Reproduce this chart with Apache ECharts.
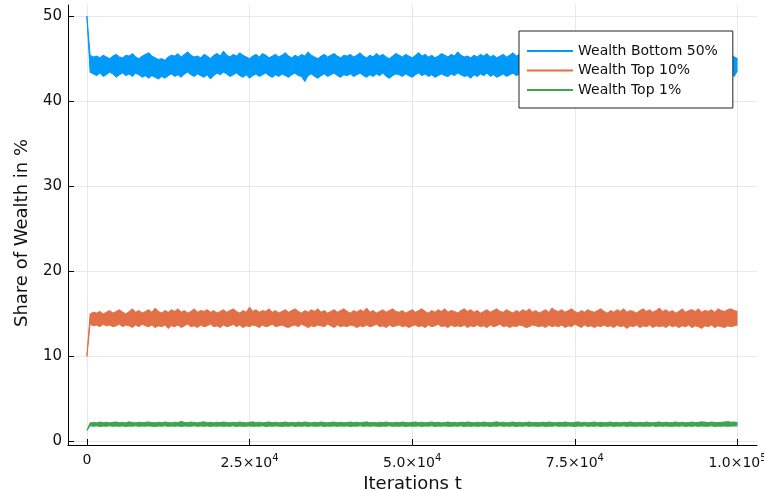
<!DOCTYPE html>
<html>
<head>
<meta charset="utf-8">
<script src="https://cdn.jsdelivr.net/npm/echarts@6/dist/echarts.min.js"></script>
<style>
    html, body {margin: 0; padding: 0; background: #fff;}
    #wealth {width: 764px; height: 490px;}
</style>
</head>
<body>
<div id="wealth"></div>
<script>
// 每个点间隔 500 次迭代, 曲线噪声很密, 用上下包络来画
var step = 500;

// Wealth Bottom 50% 上/下包络
var bottom50Hi = [50,
    45.4, 45.2, 45.3, 45.1, 45.4, 45.2, 45.0, 45.3, 45.5, 45.2, 45.1, 45.4, 45.3, 45.6, 45.2, 45.0, 45.3, 45.5, 45.7,
    45.3, 45.1, 44.9, 45.0, 44.8, 45.2, 45.4, 45.3, 45.6, 45.2, 45.5, 45.8, 45.4, 45.2, 45.3, 45.1, 45.5, 45.3, 45.0, 45.4,
    45.6, 45.3, 45.9, 45.4, 45.2, 45.5, 45.3, 45.7, 45.4, 45.2, 45.0, 45.3, 45.5, 45.2, 45.6, 45.4, 45.1, 45.3, 45.5, 45.2,
    45.4, 45.7, 45.3, 45.1, 45.4, 45.2, 45.5, 45.3, 45.8, 45.4, 45.2, 45.0, 45.3, 45.5, 45.2, 45.4, 45.6, 45.3, 45.1, 45.4,
    45.3, 45.5, 45.2, 45.4, 45.7, 45.3, 45.1, 45.4, 45.2, 45.6, 45.3, 45.5, 45.2, 45.0, 45.3, 45.6, 45.4, 45.2, 45.5, 45.3,
    45.1, 45.4, 45.7, 45.3, 45.5, 45.2, 45.4, 45.1, 45.3, 45.6, 45.4, 45.2, 45.5, 45.3, 45.8, 45.4, 45.2, 45.3, 45.1, 45.4,
    45.2, 45.5, 45.3, 45.6, 45.2, 45.4, 45.1, 45.3, 45.5, 45.2, 45.4, 45.7, 45.3, 45.5, 45.2, 45.4, 45.1, 45.3, 45.6, 45.4,
    45.2, 45.5, 45.3, 45.1, 45.4, 45.6, 45.3, 45.2, 45.5, 45.3, 45.7, 45.4, 45.2, 45.3, 45.5, 45.2, 45.4, 45.1, 45.3, 45.6,
    45.4, 45.2, 45.5, 45.3, 45.6, 45.2, 45.4, 45.3, 45.1, 45.4, 45.6, 45.3, 45.5, 45.2, 45.4, 45.7, 45.3, 45.5, 45.2, 45.4,
    45.3, 45.5, 45.2, 45.4, 45.6, 45.3, 45.1, 45.4, 45.5, 45.2, 45.6, 45.4, 45.2, 45.5, 45.3, 45.4, 45.6, 45.3, 45.5, 45.2,
    45.0];
var bottom50Lo = [50,
    43.4, 43.2, 43.0, 43.3, 42.9, 43.1, 43.4, 43.2, 42.8, 43.1, 43.3, 43.0, 43.2, 42.9, 43.3, 43.1, 42.8, 43.0, 42.7,
    43.0, 42.8, 42.6, 42.9, 42.7, 43.0, 43.2, 42.9, 43.1, 42.8, 43.2, 43.4, 43.1, 42.9, 43.2, 43.0, 42.8, 43.1, 42.6, 43.0,
    43.3, 43.1, 43.4, 43.2, 42.9, 43.1, 43.3, 43.0, 42.8, 43.1, 42.7, 43.0, 43.2, 42.9, 43.1, 43.3, 43.0, 42.8, 43.1, 42.9,
    43.2, 43.0, 42.8, 43.1, 43.3, 43.0, 42.9, 42.3, 43.0, 43.2, 42.9, 42.7, 43.0, 43.2, 42.9, 43.1, 43.3, 43.0, 42.8, 43.1,
    43.0, 43.2, 42.9, 43.1, 43.3, 43.0, 42.8, 43.1, 42.9, 43.2, 43.0, 43.3, 42.9, 42.7, 43.0, 43.2, 43.1, 42.9, 43.2, 43.0,
    42.8, 43.1, 43.3, 43.0, 43.2, 42.9, 43.1, 42.8, 43.0, 43.2, 43.0, 42.9, 43.2, 43.0, 43.3, 43.1, 42.9, 43.0, 42.7, 43.1,
    42.9, 43.2, 43.0, 43.3, 42.9, 43.1, 42.8, 43.0, 43.2, 42.9, 43.1, 43.3, 43.0, 43.2, 42.9, 43.1, 42.8, 43.0, 43.2, 43.1,
    42.9, 43.2, 43.0, 42.8, 43.1, 43.3, 43.0, 42.9, 43.2, 43.0, 43.3, 43.1, 42.9, 43.0, 43.2, 42.9, 43.1, 42.8, 43.0, 43.2,
    43.1, 42.9, 43.2, 43.0, 43.3, 42.9, 43.1, 43.0, 42.8, 43.1, 43.3, 43.0, 43.2, 42.9, 43.1, 43.3, 43.0, 43.2, 42.9, 43.1,
    43.0, 43.2, 42.9, 43.1, 43.3, 43.0, 42.8, 43.1, 43.2, 42.9, 43.3, 43.1, 42.9, 43.2, 43.0, 43.1, 43.3, 43.0, 43.2, 42.9,
    43.6];

// Wealth Top 10% 上/下包络
var top10Hi = [10,
    15.0, 15.2, 15.1, 15.3, 15.0, 15.2, 15.4, 15.1, 15.3, 15.5, 15.2, 15.0, 15.3, 15.6, 15.2, 15.4, 15.1, 15.3, 15.5,
    15.2, 15.7, 15.3, 15.1, 15.4, 15.2, 15.5, 15.3, 15.6, 15.2, 15.4, 15.1, 15.3, 15.6, 15.2, 15.4, 15.3, 15.5, 15.2, 15.4,
    15.1, 15.3, 15.5, 15.2, 15.4, 15.6, 15.3, 15.1, 15.4, 15.2, 15.8, 15.3, 15.5, 15.2, 15.4, 15.3, 15.6, 15.2, 15.4, 15.1,
    15.3, 15.5, 15.2, 15.4, 15.6, 15.3, 15.1, 15.4, 15.2, 15.5, 15.3, 15.6, 15.2, 15.4, 15.1, 15.3, 15.5, 15.2, 15.4, 15.6,
    15.3, 15.1, 15.4, 15.2, 15.5, 15.3, 15.7, 15.2, 15.4, 15.1, 15.3, 15.5, 15.2, 15.4, 15.6, 15.3, 15.2, 15.4, 15.1, 15.3,
    15.5, 15.2, 15.4, 15.6, 15.3, 15.1, 15.4, 15.2, 15.5, 15.3, 15.6, 15.2, 15.4, 15.3, 15.1, 15.4, 15.6, 15.3, 15.5, 15.2,
    15.4, 15.1, 15.3, 15.5, 15.2, 15.4, 15.6, 15.3, 15.2, 15.5, 15.3, 15.1, 15.4, 15.2, 15.5, 15.3, 15.6, 15.2, 15.4, 15.1,
    15.3, 15.5, 15.2, 15.7, 15.4, 15.3, 15.5, 15.2, 15.4, 15.6, 15.3, 15.1, 15.4, 15.2, 15.5, 15.3, 15.2, 15.4, 15.6, 15.3,
    15.1, 15.4, 15.2, 15.5, 15.3, 15.6, 15.2, 15.4, 15.3, 15.1, 15.4, 15.6, 15.3, 15.5, 15.2, 15.4, 15.7, 15.3, 15.5, 15.2,
    15.4, 15.1, 15.3, 15.6, 15.2, 15.4, 15.5, 15.3, 15.6, 15.2, 15.4, 15.3, 15.5, 15.2, 15.6, 15.4, 15.3, 15.5, 15.6, 15.4,
    15.3];
var top10Lo = [10,
    13.8, 13.6, 13.7, 13.5, 13.8, 13.6, 13.7, 13.5, 13.6, 13.8, 13.5, 13.7, 13.6, 13.4, 13.7, 13.5, 13.8, 13.6, 13.5,
    13.7, 13.4, 13.6, 13.5, 13.7, 13.3, 13.6, 13.5, 13.7, 13.4, 13.6, 13.8, 13.5, 13.6, 13.4, 13.7, 13.5, 13.6, 13.8, 13.5,
    13.6, 13.4, 13.7, 13.5, 13.6, 13.8, 13.5, 13.7, 13.4, 13.6, 13.5, 13.7, 13.6, 13.4, 13.7, 13.5, 13.6, 13.8, 13.5, 13.6,
    13.7, 13.5, 13.4, 13.6, 13.7, 13.5, 13.8, 13.6, 13.4, 13.6, 13.5, 13.7, 13.6, 13.5, 13.8, 13.6, 13.4, 13.7, 13.5, 13.6,
    13.5, 13.7, 13.6, 13.4, 13.6, 13.5, 13.7, 13.5, 13.6, 13.8, 13.5, 13.6, 13.4, 13.7, 13.5, 13.6, 13.7, 13.5, 13.6, 13.4,
    13.6, 13.7, 13.5, 13.6, 13.4, 13.7, 13.5, 13.6, 13.8, 13.5, 13.6, 13.4, 13.7, 13.5, 13.6, 13.5, 13.7, 13.4, 13.6, 13.5,
    13.7, 13.5, 13.6, 13.4, 13.7, 13.5, 13.6, 13.8, 13.5, 13.6, 13.4, 13.6, 13.5, 13.7, 13.6, 13.4, 13.5, 13.7, 13.6, 13.5,
    13.6, 13.4, 13.7, 13.5, 13.6, 13.5, 13.7, 13.4, 13.6, 13.5, 13.8, 13.6, 13.4, 13.7, 13.5, 13.6, 13.4, 13.6, 13.5, 13.7,
    13.5, 13.6, 13.4, 13.7, 13.5, 13.6, 13.3, 13.6, 13.5, 13.7, 13.4, 13.6, 13.5, 13.7, 13.4, 13.6, 13.5, 13.6, 13.4, 13.7,
    13.5, 13.6, 13.4, 13.6, 13.5, 13.7, 13.4, 13.6, 13.5, 13.3, 13.6, 13.5, 13.7, 13.4, 13.6, 13.5, 13.4, 13.6, 13.5, 13.6,
    13.7];

// Wealth Top 1% 上/下包络
var top1Hi = [1.3,
    2.20, 2.25, 2.20, 2.30, 2.22, 2.28, 2.20, 2.26, 2.30, 2.22, 2.25, 2.20, 2.32, 2.24, 2.20, 2.28, 2.22, 2.26, 2.30,
    2.24, 2.20, 2.27, 2.22, 2.30, 2.25, 2.20, 2.28, 2.23, 2.38, 2.26, 2.22, 2.30, 2.24, 2.20, 2.27, 2.32, 2.22, 2.26, 2.20,
    2.28, 2.23, 2.30, 2.25, 2.20, 2.27, 2.22, 2.30, 2.24, 2.20, 2.26, 2.32, 2.22, 2.28, 2.20, 2.25, 2.30, 2.22, 2.27, 2.20,
    2.24, 2.30, 2.22, 2.26, 2.20, 2.28, 2.23, 2.30, 2.25, 2.20, 2.27, 2.22, 2.30, 2.24, 2.20, 2.26, 2.29, 2.22, 2.27, 2.20,
    2.25, 2.30, 2.22, 2.28, 2.20, 2.26, 2.32, 2.22, 2.25, 2.20, 2.28, 2.23, 2.30, 2.24, 2.20, 2.27, 2.22, 2.30, 2.25, 2.20,
    2.26, 2.30, 2.22, 2.28, 2.20, 2.25, 2.30, 2.22, 2.27, 2.20, 2.24, 2.30, 2.22, 2.26, 2.20, 2.28, 2.23, 2.30, 2.25, 2.20,
    2.27, 2.22, 2.30, 2.24, 2.20, 2.26, 2.32, 2.22, 2.28, 2.20, 2.25, 2.30, 2.22, 2.27, 2.20, 2.24, 2.30, 2.22, 2.26, 2.20,
    2.28, 2.23, 2.30, 2.25, 2.20, 2.27, 2.22, 2.30, 2.24, 2.20, 2.26, 2.31, 2.22, 2.28, 2.20, 2.25, 2.30, 2.22, 2.27, 2.20,
    2.24, 2.30, 2.22, 2.26, 2.20, 2.28, 2.23, 2.30, 2.25, 2.20, 2.27, 2.22, 2.30, 2.24, 2.20, 2.26, 2.30, 2.22, 2.28, 2.20,
    2.25, 2.30, 2.22, 2.27, 2.20, 2.24, 2.30, 2.22, 2.26, 2.32, 2.28, 2.23, 2.30, 2.25, 2.22, 2.27, 2.30, 2.35, 2.28, 2.30,
    2.25];
var top1Lo = [1.3,
    1.85, 1.80, 1.84, 1.78, 1.82, 1.80, 1.85, 1.79, 1.83, 1.80, 1.84, 1.78, 1.82, 1.80, 1.85, 1.79, 1.83, 1.80, 1.84,
    1.81, 1.78, 1.83, 1.80, 1.85, 1.79, 1.82, 1.80, 1.84, 1.78, 1.83, 1.81, 1.80, 1.85, 1.79, 1.82, 1.80, 1.84, 1.78, 1.83,
    1.80, 1.84, 1.79, 1.82, 1.80, 1.85, 1.78, 1.83, 1.81, 1.80, 1.84, 1.79, 1.82, 1.80, 1.85, 1.78, 1.83, 1.80, 1.84, 1.81,
    1.79, 1.83, 1.80, 1.85, 1.78, 1.82, 1.80, 1.84, 1.79, 1.83, 1.81, 1.80, 1.85, 1.78, 1.82, 1.80, 1.84, 1.79, 1.83, 1.80,
    1.84, 1.78, 1.82, 1.80, 1.85, 1.79, 1.83, 1.80, 1.84, 1.81, 1.78, 1.83, 1.80, 1.85, 1.79, 1.82, 1.80, 1.84, 1.78, 1.83,
    1.81, 1.80, 1.84, 1.79, 1.82, 1.80, 1.85, 1.78, 1.83, 1.80, 1.84, 1.81, 1.79, 1.83, 1.80, 1.85, 1.78, 1.82, 1.80, 1.84,
    1.79, 1.83, 1.80, 1.84, 1.78, 1.82, 1.81, 1.85, 1.79, 1.83, 1.80, 1.84, 1.78, 1.82, 1.80, 1.85, 1.79, 1.83, 1.81, 1.80,
    1.84, 1.78, 1.82, 1.80, 1.85, 1.79, 1.83, 1.80, 1.84, 1.81, 1.78, 1.83, 1.80, 1.85, 1.79, 1.82, 1.80, 1.84, 1.78, 1.83,
    1.80, 1.84, 1.79, 1.82, 1.80, 1.85, 1.78, 1.83, 1.81, 1.80, 1.84, 1.79, 1.82, 1.80, 1.85, 1.78, 1.83, 1.80, 1.84, 1.81,
    1.79, 1.83, 1.80, 1.85, 1.78, 1.82, 1.80, 1.84, 1.79, 1.83, 1.81, 1.80, 1.85, 1.78, 1.82, 1.80, 1.84, 1.79, 1.83, 1.82,
    1.85];

// 坐标刻度
var xTicks = [0, 25000, 50000, 75000, 100000];
var xTickLabels = ['0', '2.5×10{sup|4}', '5.0×10{sup|4}', '7.5×10{sup|4}', '1.0×10{sup|5}'];
var yTicks = [0, 10, 20, 30, 40, 50];

var seriesNames = ['Wealth Bottom 50%', 'Wealth Top 10%', 'Wealth Top 1%'];
var seriesColors = ['#009afa', '#e36f47', '#3ea44e'];
var bands = [[bottom50Lo, bottom50Hi], [top10Lo, top10Hi], [top1Lo, top1Hi]];

// 下包络作底, 上下差值叠上去填充 (数据写成 [y, x], 让堆叠落在 y 上)
var series = [];
bands.forEach(function (b, k) {
    var lo = b[0], hi = b[1];
    series.push({
        name: seriesNames[k] + ' lo',
        type: 'line',
        stack: 's' + k,
        showSymbol: false,
        color: seriesColors[k],
        lineStyle: {width: 1},
        encode: {x: 1, y: 0},
        data: lo.map(function (v, i) { return [v, i * step]; })
    });
    series.push({
        name: seriesNames[k],
        type: 'line',
        stack: 's' + k,
        showSymbol: false,
        color: seriesColors[k],
        lineStyle: {width: 1},
        areaStyle: {color: seriesColors[k], opacity: 1},
        encode: {x: 1, y: 0},
        data: hi.map(function (v, i) { return [v - lo[i], i * step]; })
    });
});

var myChart = echarts.init(document.getElementById('wealth'));

var font = 'DejaVu Sans';

option = {
    animation: false,
    backgroundColor: '#fff',
    textStyle: {fontFamily: font},
    grid: {left: 68, right: 7, top: 5, bottom: 45, outerBoundsMode: 'none'},
    legend: {
        left: 519,
        top: 31,
        orient: 'vertical',
        icon: 'rect',
        itemWidth: 46,
        itemHeight: 2,
        itemGap: 3.5,
        padding: [12, 15, 10, 8],
        borderColor: '#222',
        borderWidth: 1,
        borderRadius: 0,
        backgroundColor: '#fff',
        textStyle: {fontFamily: font, fontSize: 14, color: '#111', lineHeight: 16},
        data: seriesNames
    },
    xAxis: {
        type: 'value',
        min: -2900,
        max: 103000,
        name: 'Iterations t',
        nameLocation: 'middle',
        nameGap: 27,
        nameTextStyle: {fontFamily: font, fontSize: 18, color: '#111'},
        axisLine: {onZero: false, lineStyle: {color: '#000', width: 1}},
        axisTick: {inside: true, length: 6, customValues: xTicks, lineStyle: {color: '#000'}},
        axisLabel: {
            customValues: xTicks,
            margin: 8,
            fontSize: 14,
            color: '#111',
            fontFamily: font,
            formatter: function (v) {
                return xTickLabels[xTicks.indexOf(v)];
            },
            rich: {
                sup: {fontSize: 10, color: '#111', fontFamily: font, padding: [0, 0, 10, 0]}
            }
        },
        splitLine: {show: true, lineStyle: {color: '#e8e8e8', width: 1}}
    },
    yAxis: {
        type: 'value',
        min: -0.4,
        max: 51.3,
        name: 'Share of Wealth in %',
        nameLocation: 'middle',
        nameGap: 37,
        nameTextStyle: {fontFamily: font, fontSize: 18, color: '#111', padding: [0, 16, 0, 0]},
        axisLine: {show: true, onZero: false, lineStyle: {color: '#000', width: 1}},
        axisTick: {show: true, inside: true, length: 6, customValues: yTicks, lineStyle: {color: '#000'}},
        axisLabel: {customValues: yTicks, margin: 6, fontSize: 15, color: '#111', fontFamily: font},
        splitLine: {show: true, lineStyle: {color: '#e8e8e8', width: 1}}
    },
    series: series
};

myChart.setOption(option);
</script>
</body>
</html>
